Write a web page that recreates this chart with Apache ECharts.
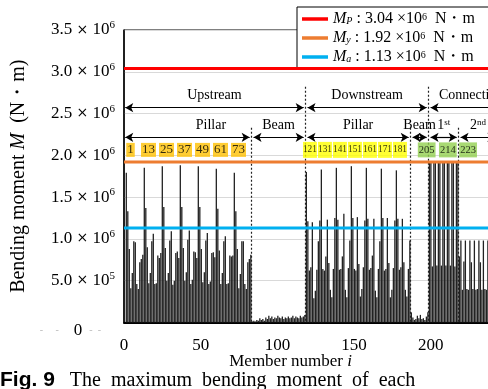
<!DOCTYPE html>
<html lang="en">
<head>
<meta charset="UTF-8">
<title>Maximum bending moment of each member</title>
<script src="https://cdn.jsdelivr.net/npm/echarts@6/dist/echarts.min.js"></script>
<style>
  html, body { margin: 0; padding: 0; background: #fff; }
  #chart { width: 488px; height: 389px; }
</style>
</head>
<body>
<div id="chart"></div>
<script>
// maximum bending moment of each member, in 10^6 N·m (member 1, 2, 3 ...)
const upstreamPillar = [
  1.79, 1.33, 0.88, 0.41, 0.59, 0.97, 0.96, 0.46, 0.40, 0.72, 0.76, 0.81,
  1.85, 1.37, 0.90, 0.47, 0.59, 0.97, 1.06, 0.46, 0.47, 0.80, 0.77, 0.83,
  1.87, 1.38, 0.89, 0.50, 0.59, 0.98, 1.09, 0.45, 0.50, 0.83, 0.85, 0.77,
  1.88, 1.38, 0.89, 0.50, 0.60, 0.99, 1.10, 0.46, 0.51, 0.85, 0.84, 0.77,
  1.87, 1.38, 0.88, 0.48, 0.60, 0.98, 1.07, 0.46, 0.49, 0.83, 0.84, 0.78,
  1.84, 1.36, 0.86, 0.46, 0.59, 0.97, 1.03, 0.46, 0.47, 0.80, 0.79, 0.80,
  1.79, 1.33, 0.88, 0.41, 0.58, 0.97, 0.97, 0.46, 0.40, 0.72, 0.76, 0.81
];
const upstreamBeam = [
  0.01, 0.02, 0.01, 0.03, 0.02, 0.05, 0.03, 0.04, 0.02, 0.06, 0.04, 0.08,
  0.05, 0.07, 0.04, 0.06, 0.05, 0.08, 0.06, 0.05, 0.07, 0.04, 0.06, 0.05,
  0.07, 0.05, 0.06, 0.08, 0.05, 0.07, 0.06, 0.05, 0.08, 0.06, 0.07, 0.09
];
const downstreamPillar = [
  1.80, 1.21, 0.62, 0.66, 1.20, 0.29, 0.38, 0.63, 0.97, 1.22,
  1.83, 0.64, 0.62, 0.79, 1.23, 0.71, 0.39, 0.30, 0.64, 1.25,
  1.85, 1.23, 0.63, 0.64, 0.79, 1.30, 0.39, 0.30, 0.65, 0.98,
  1.87, 1.25, 0.64, 0.62, 1.26, 0.70, 0.31, 0.40, 0.66, 1.22,
  1.85, 1.24, 0.63, 0.65, 0.80, 1.24, 0.38, 0.30, 0.64, 0.97,
  1.84, 1.25, 0.62, 0.64, 1.25, 0.71, 0.30, 0.39, 0.65, 1.22,
  1.82, 1.24, 0.63, 0.66, 1.24, 0.72, 0.39, 0.31, 0.64, 0.98
];
const downstreamBeam = [0.12, 0.06, 0.03, 0.04, 0.08, 0.05, 0.09, 0.04, 0.05, 0.03, 0.07, 0.12];
const connection1st = [
  1.91, 1.91, 0.67, 1.91, 1.91, 0.68, 1.91, 1.91, 0.68, 1.91,
  1.91, 0.68, 1.91, 1.91, 0.68, 1.91, 1.91, 0.67, 1.91, 1.91
];
const connection2nd = [
  0.79, 0.98, 0.39, 0.73, 0.98, 0.40, 0.39, 0.98, 0.72, 0.40, 0.98, 0.39,
  0.40, 0.98, 0.72, 0.39, 0.98, 0.40, 0.39, 0.98, 0.40, 0.39, 0.98
];

// capacity lines
const capacityNames = ['Mp', 'My', 'Ma'];
const capacitySubs = ['P', 'y', 'a'];
const capacityValues = [3.04, 1.92, 1.13];

// member numbers written in the boxes
const orangeIds = [1, 13, 25, 37, 49, 61, 73];
const yellowIds = [121, 131, 141, 151, 161, 171, 181];
const greenIds = [205, 214, 223];

// ---- layout ----
const capacityColors = ['#ff0000', '#ed7d31', '#00b0f0'];
const greenShift = [-3.8, 1.3, 5.8];
const serif = 'Liberation Serif, Times New Roman, serif';
const yRow1 = 2.57, yRow2 = 2.215, yIds = 2.065;
const yMajorTop = 2.82, yMinorTop = 2.33;

const groups = [upstreamPillar, upstreamBeam, downstreamPillar, downstreamBeam, connection1st, connection2nd];
const values = [].concat(...groups);
const barData = values.map((v, i) => [i + 1, v]);

// boundaries between member groups
const bounds = [];
let count = 0;
groups.slice(0, -1).forEach(g => { count += g.length; bounds.push(count + 0.5); });

function divider(x, top) {
  return [{ coord: [x, top] }, { coord: [x, 0] }];
}
function arrow(x1, x2, y, text, extra) {
  return [{
    name: text, coord: [x1, y], symbol: 'arrow', symbolSize: [7, 8],
    lineStyle: { type: 'solid', width: 1.2, color: '#000' },
    label: Object.assign({
      show: true, position: 'insideMiddleTop', distance: 5, formatter: text,
      fontFamily: serif, fontSize: 14, color: '#000',
      rich: { s: { fontFamily: serif, fontSize: 9, verticalAlign: 'top', lineHeight: 10 } }
    }, extra || {})
  }, { coord: [x2, y], symbol: 'arrow', symbolSize: [7, 8] }];
}

const g = 1.3;
const markData = [
  divider(bounds[0], yMinorTop), divider(bounds[1], yMajorTop), divider(bounds[2], yMinorTop),
  divider(bounds[3], yMajorTop), divider(bounds[4], yMinorTop),
  arrow(0.3, bounds[1] - g, yRow1, 'Upstream'),
  arrow(bounds[1] + g, bounds[3] - g, yRow1, 'Downstream'),
  arrow(bounds[3] + g, 258, yRow1, 'Connection'),
  arrow(0.3, bounds[0] - g, yRow2, 'Pillar', { padding: [0, 0, 0, 47] }),
  arrow(bounds[0] + g, bounds[1] - g, yRow2, 'Beam'),
  arrow(bounds[1] + g, bounds[2] - g, yRow2, 'Pillar'),
  arrow(bounds[2] + g, bounds[3] - g, yRow2, 'Beam'),
  arrow(bounds[3] + g, bounds[4] - g, yRow2, '1{s|st}'),
  arrow(bounds[4] + g, 247, yRow2, '2{s|nd}')
];

const idData = []
  .concat(orangeIds.map(id => ({ value: [id + 2.8, yIds], label: { formatter: String(id), backgroundColor: '#ffc000', fontSize: 13, padding: [1, 1, 1, 1] } })))
  .concat(yellowIds.map(id => ({ value: [id + 2.4, yIds], label: { formatter: String(id), backgroundColor: '#ffff00', fontSize: 9.3, padding: [2, 0, 2, 0] } })))
  .concat(greenIds.map((id, i) => ({ value: [id + greenShift[i], yIds], label: { formatter: String(id), backgroundColor: '#92d050', fontSize: 10.5, padding: [2, 1, 1, 1] } })));

function sciLabel(v) {
  if (v === 0) return '{d|-     -}{z|0}{e|-  -}';
  const raw = v * 1e6;
  const exp = Math.floor(Math.log10(raw) + 1e-9);
  const mant = (raw / Math.pow(10, exp)).toFixed(1);
  return '{n|' + mant + ' }{x|×}{n| 10}{s|' + exp + '}';
}

const chart = echarts.init(document.getElementById('chart'));
chart.setOption({
  animation: false,
  grid: {
    left: 124, top: 30, width: 391.2, height: 292.4, outerBoundsMode: 'none',
    show: true, borderColor: '#000', borderWidth: 1
  },
  legend: {
    data: capacityNames, orient: 'vertical', left: 297, top: 7,
    icon: 'rect', itemWidth: 26, itemHeight: 3.5, itemGap: 3,
    padding: [4, 30, 4, 5], borderColor: '#000', borderWidth: 1, backgroundColor: '#fff',
    formatter: name => {
      const i = capacityNames.indexOf(name);
      return '{i|M}{b|' + capacitySubs[i] + '}{n| : ' + capacityValues[i].toFixed(2) + ' ×10}{s|6}{n|  N・m}';
    },
    textStyle: {
      color: '#000',
      rich: {
        i: { fontFamily: serif, fontStyle: 'italic', fontSize: 16, lineHeight: 14 },
        b: { fontFamily: serif, fontStyle: 'italic', fontSize: 10, verticalAlign: 'bottom', lineHeight: 10 },
        n: { fontFamily: serif, fontSize: 16, lineHeight: 14 },
        s: { fontFamily: serif, fontSize: 10, verticalAlign: 'top', lineHeight: 10 }
      }
    }
  },
  xAxis: [{
    type: 'value', min: 0, max: 255, interval: 50,
    axisLine: { lineStyle: { color: '#000', width: 2 } },
    axisTick: { show: false }, splitLine: { show: false },
    axisLabel: { color: '#000', fontFamily: serif, fontSize: 17, margin: 15 },
    name: 'Member number {i|i}', nameLocation: 'middle', nameGap: 31, nameMoveOverlap: false,
    nameTextStyle: {
      color: '#000', fontFamily: serif, fontSize: 17, padding: [0, 58, 0, 0],
      rich: { i: { fontFamily: serif, fontStyle: 'italic', fontSize: 17 } }
    }
  }, {
    type: 'value', min: -0.532, max: 260.2, show: false
  }],
  yAxis: {
    type: 'value', min: 0, max: 3.5, interval: 0.5,
    axisLine: { show: true, lineStyle: { color: '#000', width: 1.5 } },
    axisTick: { show: false },
    splitLine: { lineStyle: { color: '#d9d9d9', width: 1.2 } },
    axisLabel: {
      margin: 9, formatter: sciLabel,
      rich: {
        n: { fontFamily: serif, fontSize: 17, color: '#000', lineHeight: 20 },
        x: { fontFamily: 'DejaVu Sans', fontSize: 14, color: '#000', lineHeight: 20 },
        s: { fontFamily: serif, fontSize: 11, color: '#000', lineHeight: 12, verticalAlign: 'top' },
        z: { fontFamily: serif, fontSize: 17, color: '#000', padding: [16, 7, 0, 15] },
        d: { fontFamily: serif, fontSize: 10, color: '#bbb', padding: [16, 0, 0, 0] },
        e: { fontFamily: serif, fontSize: 10, color: '#bbb', padding: [16, 14, 0, 0] }
      }
    },
    name: 'Bending moment {i|M}  (N・m)', nameLocation: 'middle', nameGap: 95, nameRotate: 90,
    nameMoveOverlap: false,
    nameTextStyle: {
      color: '#000', fontFamily: serif, fontSize: 20,
      rich: { i: { fontFamily: serif, fontStyle: 'italic', fontSize: 20 } }
    }
  },
  graphic: [{
    type: 'text', left: 0, top: 370,
    style: {
      text: '{b|Fig. 9}   The  maximum  bending  moment  of  each',
      fontFamily: serif, fontSize: 20, fill: '#000',
      rich: { b: { fontFamily: 'Liberation Sans, Arial, sans-serif', fontWeight: 'bold', fontSize: 21 } }
    }
  }],
  series: [{
    type: 'bar', xAxisIndex: 1, data: barData, barWidth: 1.3,
    itemStyle: { color: '#222' }, silent: true,
    markLine: {
      silent: true, symbol: 'none', animation: false,
      label: { show: false },
      lineStyle: { color: '#222', type: [2, 2], width: 1.2 },
      data: markData
    }
  }, {
    type: 'scatter', xAxisIndex: 1, data: idData, symbolSize: 1, silent: true,
    itemStyle: { color: 'rgba(0,0,0,0)' }, z: 6,
    label: { show: true, position: 'inside', color: '#000', fontFamily: serif, lineHeight: 12 }
  }].concat(capacityNames.map((name, i) => ({
    name: name, type: 'line', xAxisIndex: 0,
    data: [[0, capacityValues[i]], [255, capacityValues[i]]],
    showSymbol: false, silent: true, z: 5,
    lineStyle: { color: capacityColors[i], width: 3 },
    itemStyle: { color: capacityColors[i] }
  })))
});
</script>
</body>
</html>
